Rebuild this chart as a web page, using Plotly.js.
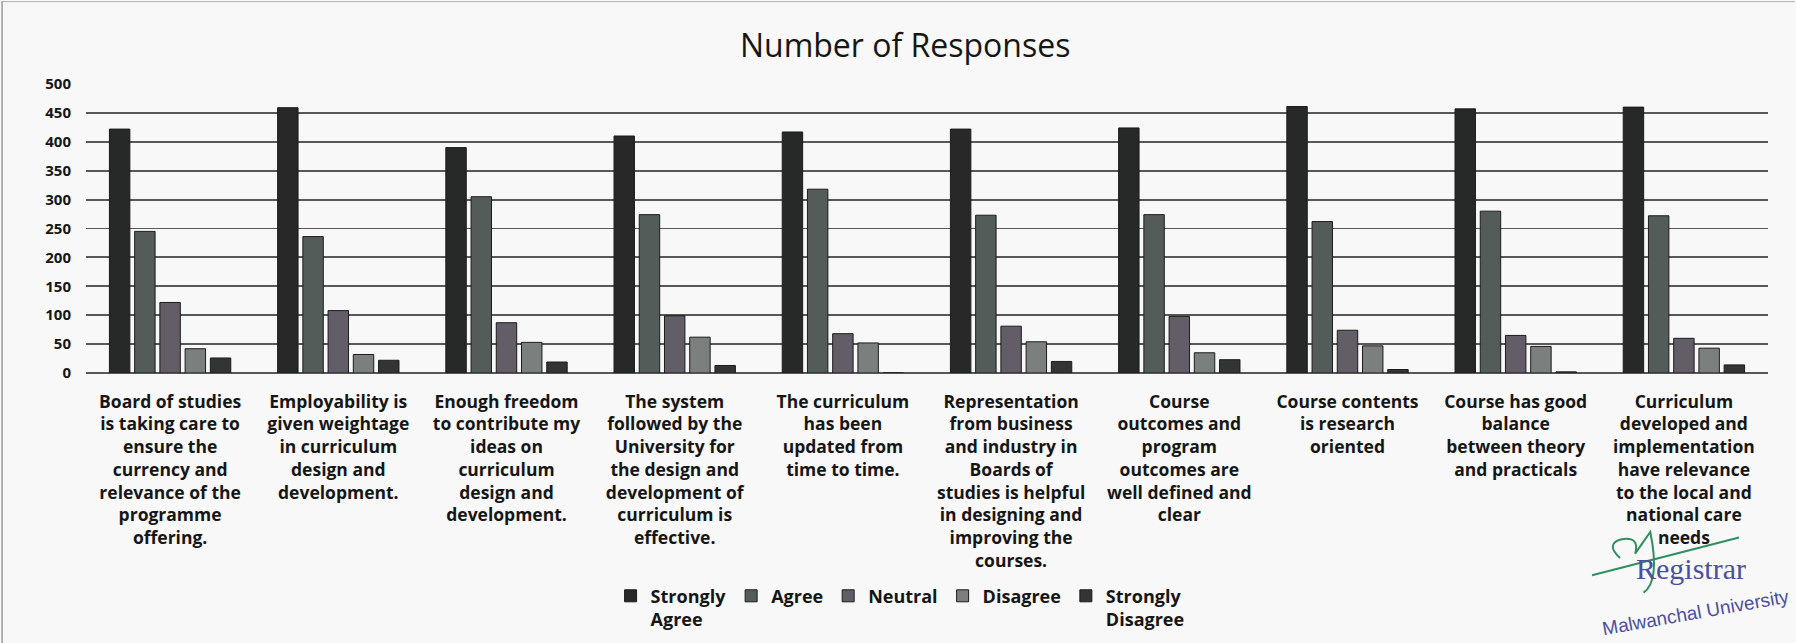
<!DOCTYPE html>
<html>
<head>
<meta charset="utf-8">
<script src="https://cdn.plot.ly/plotly-3.0.1.min.js"></script>
<style>
html,body{margin:0;padding:0;background:#f7f8f7;}
#chart{width:1796px;height:643px;}
</style>
</head>
<body>
<div id="chart"></div>
<script>
const categories = [
  "Board of studies<br>is taking care to<br>ensure the<br>currency and<br>relevance of the<br>programme<br>offering.",
  "Employability is<br>given weightage<br>in curriculum<br>design and<br>development.",
  "Enough freedom<br>to contribute my<br>ideas on<br>curriculum<br>design and<br>development.",
  "The system<br>followed by the<br>University for<br>the design and<br>development of<br>curriculum is<br>effective.",
  "The curriculum<br>has been<br>updated from<br>time to time.",
  "Representation<br>from business<br>and industry in<br>Boards of<br>studies is helpful<br>in designing and<br>improving the<br>courses.",
  "Course<br>outcomes and<br>program<br>outcomes are<br>well defined and<br>clear",
  "Course contents<br>is research<br>oriented",
  "Course has good<br>balance<br>between theory<br>and practicals",
  "Curriculum<br>developed and<br>implementation<br>have relevance<br>to the local and<br>national care<br>needs"
];
const seriesNames = ["Strongly<br>Agree", "Agree", "Neutral", "Disagree", "Strongly<br>Disagree"];
const stronglyAgree    = [422, 459, 390, 410, 417, 422, 424, 461, 457, 460];
const agree            = [245, 236, 305, 274, 318, 273, 274, 262, 280, 272];
const neutral          = [122, 108, 87, 99, 68, 81, 98, 74, 65, 60];
const disagree         = [42, 32, 53, 62, 52, 54, 35, 47, 46, 43];
const stronglyDisagree = [26, 22, 19, 13, 0, 20, 23, 6, 2, 14];
const yTicks = [0, 50, 100, 150, 200, 250, 300, 350, 400, 450, 500];

const seriesValues = [stronglyAgree, agree, neutral, disagree, stronglyDisagree];
const seriesColors = ["#262927", "#545c59", "#625d66", "#7b7f7d", "#323533"];

const traces = seriesValues.map((vals, i) => ({
  type: "bar",
  name: seriesNames[i],
  x: categories,
  y: vals,
  marker: {color: seriesColors[i], line: {color: "#1c1c1c", width: 1}}
}));

const FONT = "Open Sans, Lato, sans-serif";
const layout = {
  width: 1796, height: 643,
  paper_bgcolor: "#f7f8f7", plot_bgcolor: "rgba(0,0,0,0)",
  margin: {l: 86, r: 28, t: 84, b: 270, autoexpand: false},
  barmode: "group", bargap: 0.25, bargroupgap: 0.19,
  title: {text: "Number of Responses", x: 0.504, xanchor: "center", y: 0.929, yanchor: "middle",
          font: {family: FONT, size: 32, color: "#161616"}},
  xaxis: {
    type: "category", showgrid: false, ticks: "", showline: false,
    tickfont: {family: FONT, size: 17.5, color: "#161616", weight: 700},
    tickangle: 0, automargin: false, ticklabelstandoff: 16
  },
  yaxis: {
    range: [0, 500], tickvals: yTicks, ticktext: yTicks.map(String),
    showgrid: true, gridcolor: "#585858", gridwidth: 1.8,
    zeroline: true, zerolinecolor: "#585858", zerolinewidth: 1.8,
    ticks: "", ticklabelstandoff: 14,
    tickfont: {family: FONT, size: 15, color: "#161616", weight: 700},
    automargin: false, fixedrange: true
  },
  legend: {
    orientation: "h", x: 0.484, xanchor: "center", y: -0.708, yanchor: "top",
    valign: "top", traceorder: "normal",
    font: {family: FONT, size: 18, color: "#161616", weight: 700},
    itemwidth: 30, bgcolor: "rgba(0,0,0,0)"
  },
  annotations: [
    {text: "Registrar", xref: "paper", yref: "paper", x: 0.954, y: -0.677,
     xanchor: "center", yanchor: "middle", showarrow: false,
     font: {family: "Liberation Serif, DejaVu Serif, serif", size: 30, color: "#4b4f9e"}},
    {text: "Malwanchal University", xref: "paper", yref: "paper", x: 0.957, y: -0.829,
     xanchor: "center", yanchor: "middle", showarrow: false,
     textangle: -10, font: {family: "Liberation Sans, Arial, sans-serif", size: 19, color: "#4b4f9e"}}
  ],
  shapes: [
    {type: "line", xref: "paper", yref: "paper", x0: 0.8954, y0: -0.700, x1: 0.9828, y1: -0.569,
     line: {color: "#2f8f5f", width: 2}},
    {type: "path", xref: "paper", yref: "paper",
     path: "M 0.912 -0.640 Q 0.903 -0.590 0.913 -0.575 Q 0.924 -0.565 0.921 -0.625 L 0.930 -0.550 Q 0.936 -0.720 0.926 -0.760",
     line: {color: "#2f8f5f", width: 2}},
    {type: "line", xref: "paper", yref: "paper", x0: -0.0499, y0: -0.98, x1: -0.0499, y1: 1.287,
     line: {color: "#9a9a9a", width: 1.5}},
    {type: "line", xref: "paper", yref: "paper", x0: -0.0499, y0: 1.285, x1: 1.016, y1: 1.285,
     line: {color: "#b0b0b0", width: 1}}
  ]
};

Plotly.newPlot("chart", traces, layout, {displayModeBar: false, staticPlot: true});
</script>
</body>
</html>
